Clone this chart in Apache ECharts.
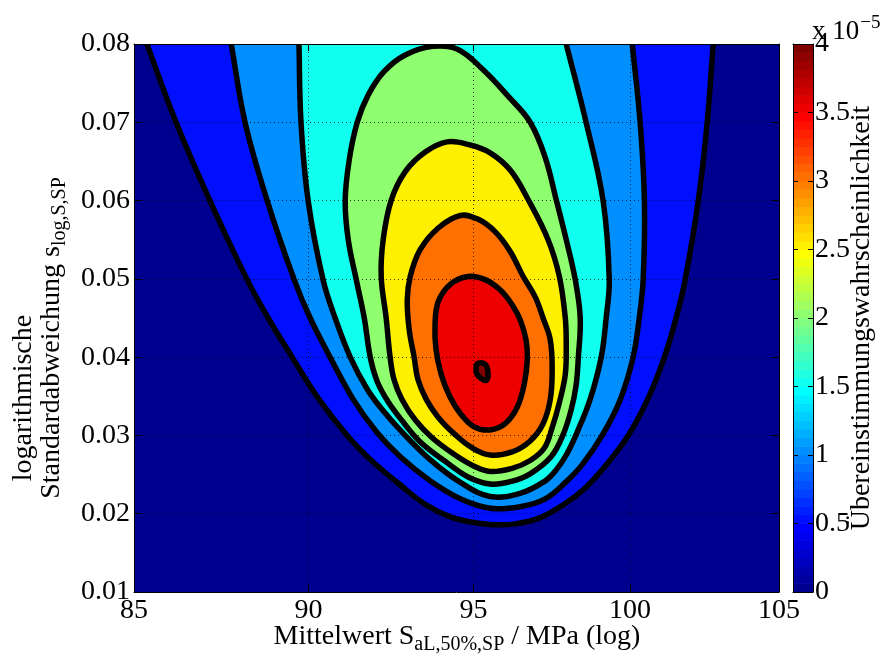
<!DOCTYPE html>
<html>
<head>
<meta charset="utf-8">
<title>Übereinstimmungswahrscheinlichkeit</title>
<script src="https://cdn.jsdelivr.net/npm/echarts@6.0.0/dist/echarts.min.js"></script>
<style>
html, body { margin: 0; padding: 0; background: #fff; }
#chart { width: 883px; height: 660px; }
</style>
</head>
<body>
<div id="chart"></div>
<script>
// Contour levels of the agreement probability (units of 1e-5)
const levels = [0.5, 1.0, 1.5, 2.0, 2.5, 3.0, 3.5, 4.0];

// Iso-lines as [mean S_aL,50%,SP in MPa, log standard deviation]
const iso05 = [[85.36,0.0800],[86.18,0.0700],[87.14,0.0600],[88.21,0.0499],[88.82,0.0450],[89.52,0.0400],[90.28,0.0348],[91.15,0.0300],[91.90,0.0267],[92.74,0.0237],[93.51,0.0212],[94.28,0.0196],[94.96,0.0189],[95.61,0.0186],[96.31,0.0187],[97.10,0.0195],[97.93,0.0214],[98.54,0.0233],[99.19,0.0261],[99.94,0.0300],[100.60,0.0348],[101.13,0.0400],[101.52,0.0450],[101.82,0.0499],[102.26,0.0600],[102.56,0.0700],[102.76,0.0800]];
const iso10 = [[87.75,0.0800],[88.15,0.0700],[88.79,0.0600],[89.58,0.0499],[90.05,0.0450],[90.64,0.0400],[91.33,0.0346],[92.02,0.0305],[92.74,0.0273],[93.66,0.0242],[94.59,0.0219],[95.52,0.0207],[96.46,0.0209],[97.26,0.0219],[97.93,0.0241],[98.45,0.0263],[99.09,0.0300],[99.68,0.0346],[100.10,0.0400],[100.30,0.0450],[100.43,0.0499],[100.47,0.0600],[100.33,0.0700],[100.07,0.0800]];
const iso15 = [[89.72,0.0800],[89.78,0.0700],[89.99,0.0600],[90.43,0.0499],[90.79,0.0450],[91.24,0.0400],[91.75,0.0359],[92.20,0.0333],[92.74,0.0307],[93.66,0.0269],[94.59,0.0240],[95.52,0.0222],[96.46,0.0226],[97.26,0.0242],[97.61,0.0256],[97.93,0.0275],[98.28,0.0304],[98.70,0.0346],[99.06,0.0400],[99.22,0.0450],[99.32,0.0499],[99.12,0.0600],[98.57,0.0700],[97.93,0.0800]];
const iso20 = [[93.75,0.0797],[94.52,0.0793],[95.30,0.0767],[96.09,0.0733],[96.78,0.0700],[97.26,0.0655],[97.61,0.0601],[97.93,0.0550],[98.22,0.0499],[98.38,0.0450],[98.32,0.0400],[98.25,0.0365],[98.09,0.0333],[97.83,0.0301],[97.45,0.0273],[96.78,0.0251],[96.15,0.0241],[95.52,0.0238],[94.83,0.0247],[94.12,0.0267],[93.35,0.0292],[92.80,0.0319],[92.38,0.0343],[92.05,0.0369],[91.84,0.0400],[91.66,0.0450],[91.42,0.0499],[91.18,0.0550],[91.09,0.0600],[91.21,0.0652],[91.45,0.0700],[91.78,0.0735],[92.26,0.0765],[92.90,0.0786]];
const iso25 = [[94.18,0.0675],[94.90,0.0671],[95.52,0.0661],[96.15,0.0639],[96.72,0.0601],[97.35,0.0550],[97.71,0.0503],[97.90,0.0450],[97.93,0.0416],[97.90,0.0378],[97.71,0.0342],[97.48,0.0310],[97.23,0.0284],[96.78,0.0268],[96.21,0.0258],[95.52,0.0254],[95.05,0.0260],[94.43,0.0275],[93.72,0.0297],[93.20,0.0320],[92.80,0.0346],[92.56,0.0371],[92.44,0.0400],[92.32,0.0450],[92.17,0.0503],[92.23,0.0550],[92.47,0.0600],[92.90,0.0637],[93.51,0.0662]];
const iso30 = [[94.59,0.0581],[95.15,0.0576],[95.68,0.0560],[96.15,0.0535],[96.56,0.0503],[96.94,0.0477],[97.19,0.0450],[97.42,0.0422],[97.48,0.0384],[97.42,0.0346],[97.19,0.0315],[96.78,0.0293],[96.21,0.0279],[95.52,0.0275],[94.96,0.0284],[94.43,0.0301],[93.91,0.0323],[93.54,0.0346],[93.29,0.0371],[93.17,0.0400],[93.02,0.0435],[92.96,0.0473],[93.05,0.0503],[93.35,0.0537],[93.91,0.0565]];
const iso35 = [[94.83,0.0503],[95.36,0.0499],[95.83,0.0486],[96.21,0.0467],[96.46,0.0448],[96.65,0.0422],[96.69,0.0397],[96.59,0.0365],[96.37,0.0336],[95.99,0.0315],[95.52,0.0307],[95.02,0.0311],[94.59,0.0328],[94.25,0.0351],[94.00,0.0378],[93.84,0.0410],[93.81,0.0442],[93.91,0.0471],[94.28,0.0493]];
const iso40 = [[95.14,0.0392],[95.36,0.0391],[95.45,0.0382],[95.42,0.0371],[95.30,0.0371],[95.11,0.0378],[95.08,0.0387]];

const isoLines = [iso05, iso10, iso15, iso20, iso25, iso30, iso35, iso40];
// the three outermost lines leave the plot through its upper edge
const isoOpen = [true, true, true, false, false, false, false, false];

// axis ticks
const xTickValues = [85, 90, 95, 100, 105];
const xRange = [85, 105];
const yRange = [0.01, 0.08];
const yStep = 0.01;
const cbRange = [0, 4];
const cbStep = 0.5;

// MATLAB jet colormap, 64 entries
function jetMap(m) {
  const n = Math.ceil(m / 4);
  const u = [];
  for (let i = 1; i <= n; i++) u.push(i / n);
  for (let i = 1; i < n; i++) u.push(1);
  for (let i = n; i >= 1; i--) u.push(i / n);
  const off = Math.ceil(n / 2) - (m % 4 === 1 ? 1 : 0);
  const rows = Array.from({ length: m }, () => [0, 0, 0]);
  u.forEach((val, k) => {
    const g = off + k + 1, r = g + n, b = g - n;
    if (g >= 1 && g <= m) rows[g - 1][1] = val;
    if (r >= 1 && r <= m) rows[r - 1][0] = val;
    if (b >= 1 && b <= m) rows[b - 1][2] = val;
  });
  return rows.map(c => 'rgb(' + c.map(v => Math.round(v * 255)).join(',') + ')');
}
const jet = jetMap(64);
function colorOf(v) {
  const idx = Math.min(jet.length - 1, Math.floor((v - cbRange[0]) / (cbRange[1] - cbRange[0]) * jet.length));
  return jet[Math.max(0, idx)];
}

const FONT = '"Liberation Serif", "Times New Roman", serif';
const FS = 28;
const lnx = v => Math.log(v);

function renderIso(params, api) {
  const i = api.value(2);
  const pts = isoLines[i].map(p => api.coord([lnx(p[0]), p[1]]));
  if (isoOpen[i]) {
    // carry both ends on beyond the upper edge so the closing run lies outside the clip
    const ext = (a, b) => {
      const dx = a[0] - b[0], dy = a[1] - b[1];
      const d = Math.hypot(dx, dy) || 1;
      return [a[0] + dx / d * 60, a[1] + dy / d * 60];
    };
    const head = ext(pts[0], pts[1]);
    const tail = ext(pts[pts.length - 1], pts[pts.length - 2]);
    pts.unshift(head);
    pts.push(tail);
  }
  return {
    type: 'polygon',
    shape: { points: pts, smooth: 0.38 },
    style: { fill: colorOf(levels[i]), stroke: '#000', lineWidth: 5.5, lineJoin: 'round' }
  };
}

function renderColorbar(params, api) {
  const k = api.value(2);
  const step = (cbRange[1] - cbRange[0]) / jet.length;
  const p0 = api.coord([0, cbRange[0] + k * step]);
  const p1 = api.coord([1, cbRange[0] + (k + 1) * step]);
  return {
    type: 'rect',
    shape: { x: p0[0], y: p1[1] - 0.3, width: p1[0] - p0[0], height: p0[1] - p1[1] + 0.6 },
    style: { fill: jet[k] }
  };
}

const axisText = { fontFamily: FONT, fontSize: FS, color: '#000' };
const frameLine = { show: true, onZero: false, lineStyle: { color: '#000', width: 1 } };
const gridDots = { show: true, lineStyle: { color: '#000', width: 1, type: [1, 3], opacity: 0.75 } };
const xTicksLn = xTickValues.map(lnx);

const chart = echarts.init(document.getElementById('chart'), null, { renderer: 'canvas' });
chart.setOption({
  animation: false,
  backgroundColor: '#fff',
  grid: [
    { left: 134, top: 44, width: 645, height: 548, show: true, backgroundColor: colorOf(0), borderWidth: 0 },
    { left: 793, top: 44, width: 20, height: 548, show: false }
  ],
  xAxis: [
    { gridIndex: 0, type: 'value', position: 'bottom', min: lnx(xRange[0]), max: lnx(xRange[1]), z: 5,
      axisLine: frameLine,
      axisTick: { show: true, inside: true, length: 7, customValues: xTicksLn, lineStyle: { color: '#000' } },
      axisLabel: Object.assign({ customValues: xTicksLn, margin: 5, formatter: v => String(Math.round(Math.exp(v))) }, axisText),
      splitLine: gridDots },
    { gridIndex: 0, type: 'value', position: 'top', min: lnx(xRange[0]), max: lnx(xRange[1]), z: 5,
      axisLine: frameLine,
      axisTick: { show: true, inside: true, length: 7, customValues: xTicksLn, lineStyle: { color: '#000' } },
      axisLabel: { show: false }, splitLine: { show: false } },
    { gridIndex: 1, type: 'value', position: 'bottom', min: 0, max: 1, z: 5,
      axisLine: frameLine, axisTick: { show: false }, axisLabel: { show: false }, splitLine: { show: false } },
    { gridIndex: 1, type: 'value', position: 'top', min: 0, max: 1, z: 5,
      axisLine: frameLine, axisTick: { show: false }, axisLabel: { show: false }, splitLine: { show: false } }
  ],
  yAxis: [
    { gridIndex: 0, type: 'value', position: 'left', min: yRange[0], max: yRange[1], interval: yStep, z: 5,
      axisLine: frameLine,
      axisTick: { show: true, inside: true, length: 7, lineStyle: { color: '#000' } },
      axisLabel: Object.assign({ margin: 4, formatter: v => v.toFixed(2) }, axisText),
      splitLine: gridDots },
    { gridIndex: 0, type: 'value', position: 'right', min: yRange[0], max: yRange[1], interval: yStep, z: 5,
      axisLine: frameLine,
      axisTick: { show: true, inside: true, length: 7, lineStyle: { color: '#000' } },
      axisLabel: { show: false }, splitLine: { show: false } },
    { gridIndex: 1, type: 'value', position: 'right', min: cbRange[0], max: cbRange[1], interval: cbStep, z: 5,
      axisLine: frameLine,
      axisTick: { show: true, inside: true, length: 5, lineStyle: { color: '#000' } },
      axisLabel: Object.assign({ margin: 2, showMinLabel: true, showMaxLabel: true }, axisText),
      splitLine: { show: false } },
    { gridIndex: 1, type: 'value', position: 'left', min: cbRange[0], max: cbRange[1], interval: cbStep, z: 5,
      axisLine: frameLine,
      axisTick: { show: true, inside: true, length: 5, lineStyle: { color: '#000' } },
      axisLabel: { show: false }, splitLine: { show: false } }
  ],
  series: [
    { type: 'custom', name: 'Übereinstimmungswahrscheinlichkeit', xAxisIndex: 0, yAxisIndex: 0, clip: true, silent: true, z: 2,
      data: levels.map((l, i) => [lnx(95), 0.04, i]),
      renderItem: renderIso },
    { type: 'custom', name: 'Farbskala', xAxisIndex: 2, yAxisIndex: 2, clip: true, silent: true, z: 2,
      data: jet.map((c, k) => [0.5, 1, k]),
      renderItem: renderColorbar }
  ],
  graphic: [
    { type: 'text', x: 457, y: 637, silent: true,
      style: { text: 'Mittelwert S{s|aL,50%,SP} / MPa (log)', font: FS + 'px ' + FONT, fill: '#000',
        align: 'center', verticalAlign: 'middle', lineHeight: 36,
        rich: { s: { fontFamily: FONT, fontSize: 20, padding: [16, 0, 0, 0] } } } },
    { type: 'text', x: 24, y: 398, rotation: Math.PI / 2, silent: true,
      style: { text: 'logarithmische', font: FS + 'px ' + FONT, fill: '#000', align: 'center', verticalAlign: 'middle' } },
    { type: 'text', x: 52, y: 338, rotation: Math.PI / 2, silent: true,
      style: { text: 'Standardabweichung s{s|log,S,SP}', font: FS + 'px ' + FONT, fill: '#000',
        align: 'center', verticalAlign: 'middle', lineHeight: 36,
        rich: { s: { fontFamily: FONT, fontSize: 20, padding: [16, 0, 0, 0] } } } },
    { type: 'text', x: 862, y: 318, rotation: Math.PI / 2, silent: true,
      style: { text: 'Übereinstimmungswahrscheinlichkeit', font: FS + 'px ' + FONT, fill: '#000', align: 'center', verticalAlign: 'middle' } },
    { type: 'text', x: 812, y: 32, silent: true,
      style: { text: 'x 10{e|−5}', font: '27px ' + FONT, fill: '#000', align: 'left', verticalAlign: 'middle', lineHeight: 36,
        rich: { e: { fontFamily: FONT, fontSize: 19, padding: [0, 0, 18, 1] } } } }
  ]
});
</script>
</body>
</html>
